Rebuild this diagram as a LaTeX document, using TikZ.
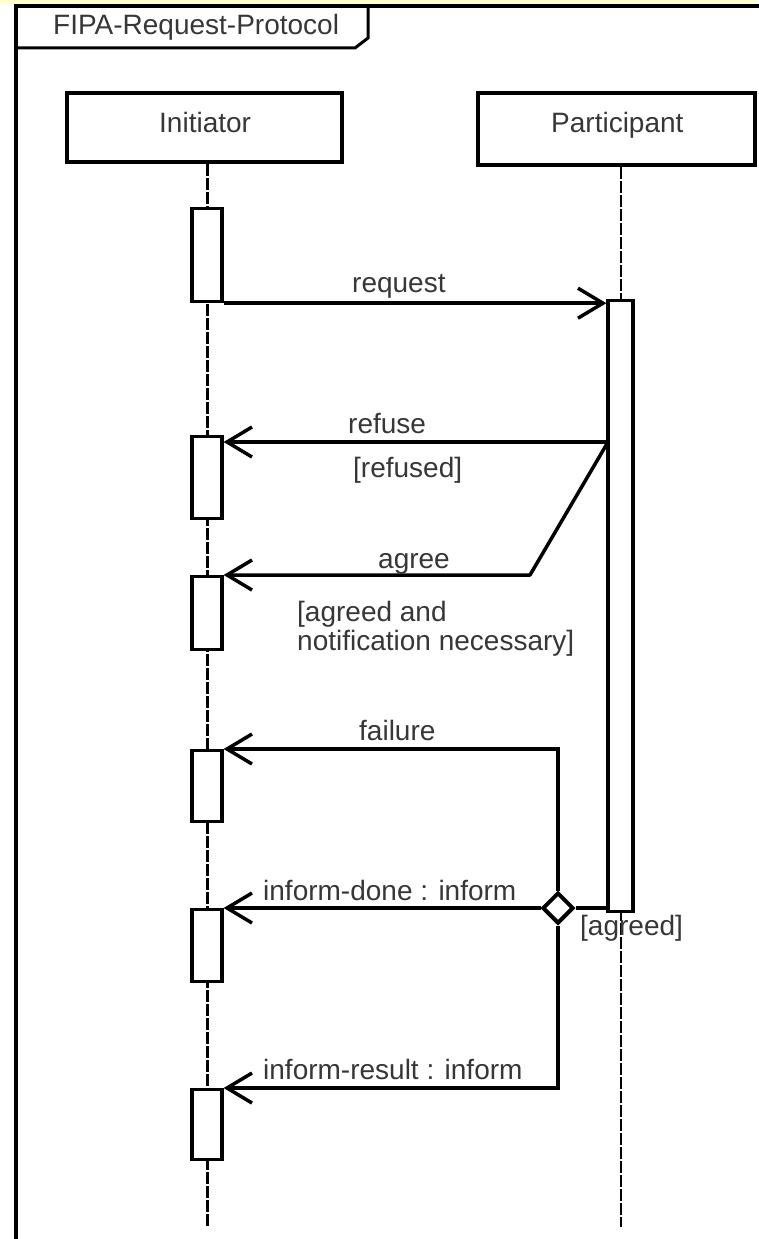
\documentclass[tikz,border=0pt]{standalone}
\usepackage{fontspec}
\setmainfont{Liberation Sans}
\usetikzlibrary{arrows.meta,shapes.geometric}
\definecolor{txt}{RGB}{55,55,55}
\definecolor{band}{RGB}{255,255,210}
\begin{document}
\begin{tikzpicture}[x=1pt,y=-1pt,
  lbl/.style={inner sep=0pt, anchor=base west, text=txt, font=\fontsize{28}{30}\selectfont},
  headbox/.style={draw=black, line width=4.5pt, fill=white, inner sep=0pt},
  actbox/.style={draw=black, line width=3.2pt, fill=white, inner sep=0pt, minimum width=30pt, anchor=north},
  msg/.style={line width=3.5pt, -{Straight Barb[length=25pt,width=30pt]}},
  plainline/.style={line width=3.5pt},
  lifeline/.style={line width=3pt, dash pattern=on 12pt off 2pt},
  choice/.style={diamond, draw=black, line width=4pt, fill=white, inner sep=0pt, minimum width=31pt, minimum height=31pt}]
\useasboundingbox (0,0) rectangle (758,1239);
\fill[white] (0,0) rectangle (758,1239);
\fill[band] (0,0) rectangle (758,4);
% frame
\draw[line width=4pt] (15.5,1242) -- (15.5,6) -- (760,6);
\draw[line width=3pt] (15.5,48) -- (355,48) -- (368,38) -- (368,6);
\node[lbl] (title) at (53,35) {FIPA-Request-Protocol};
% heads
\node[headbox, minimum width=275pt, minimum height=69pt] (ini) at (204.5,127.5) {};
\node[headbox, minimum width=277pt, minimum height=72pt] (par) at (616.5,129) {};
\node[lbl] (initxt) at (159,132) {Initiator};
\node[lbl] (partxt) at (551,132) {Participant};
% lifelines
\coordinate (ie) at (207,1227);
\coordinate (pe) at (621,1227);
\draw[lifeline] (ie |- ini.south) -- (ie);
\draw[lifeline, line width=2.5pt] (pe |- par.south) -- (pe);
% activations
\node[actbox, minimum height=93pt] (a1) at (207,207) {};
\node[actbox, minimum width=25pt, minimum height=611pt] (p1) at (620.5,299) {};
\node[actbox, minimum height=82pt] (a2) at (207,435) {};
\node[actbox, minimum height=73pt] (a3) at (207,575) {};
\node[actbox, minimum height=71pt] (a4) at (207,749) {};
\node[actbox, minimum height=72pt] (a5) at (207,908) {};
\node[actbox, minimum height=70pt] (a6) at (207,1088) {};
% messages
\draw[msg] (a1.south east) -- (a1.south east -| p1.west);
\coordinate (rf) at (608,442);
\draw[msg] (rf) -- (rf -| a2.east);
\coordinate (ag) at (530,575);
\draw[msg, line join=round] (rf) -- (ag) -- (ag -| a3.east);
\node[choice] (dm) at (558,908) {};
\coordinate (fl) at (558,749);
\draw[msg] (dm.north) -- (fl) -- (fl -| a4.east);
\draw[msg] (dm.west) -- (dm.west -| a5.east);
\coordinate (ir) at (558,1088);
\draw[msg] (dm.south) -- (ir) -- (ir -| a6.east);
\draw[plainline] (dm.east) -- (dm.east -| p1.west);
% labels
\node[lbl] (l1) at (352,292) {request};
\node[lbl] (l2) at (348,433) {refuse};
\node[lbl] (l3) at (353,477) {[refused]};
\node[lbl] (l4) at (378,568) {agree};
\node[lbl, align=left, anchor=north west, font=\fontsize{28}{29.5}\selectfont] (l5) at (297,601) {[agreed and\\notification necessary]};
\node[lbl] (l6) at (359,740) {failure};
\node[lbl] (l7) at (263,900) {inform-done : inform};
\node[lbl] (l8) at (580,935) {[agreed]};
\node[lbl] (l9) at (263,1079) {inform-result : inform};
\end{tikzpicture}
\end{document}
